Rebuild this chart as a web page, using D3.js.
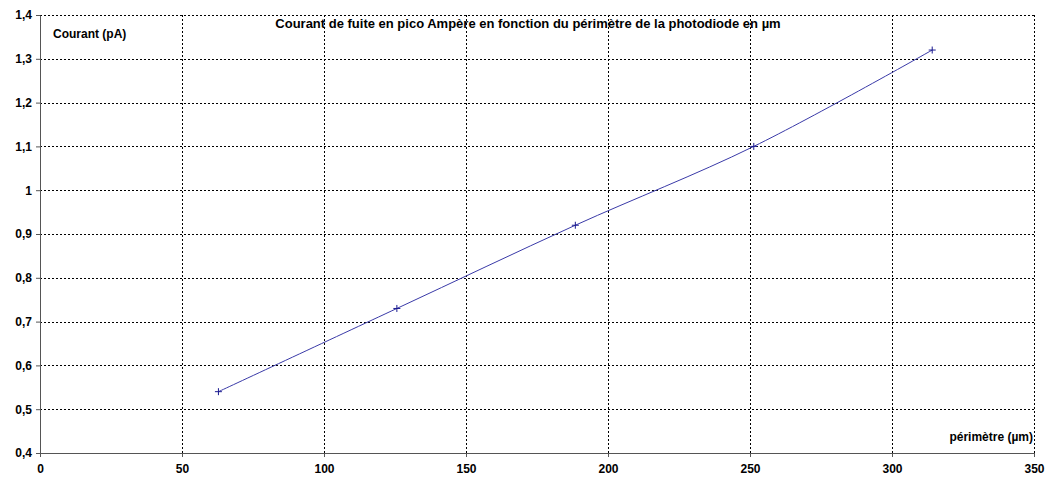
<!DOCTYPE html>
<html>
<head>
<meta charset="utf-8">
<script src="https://cdn.jsdelivr.net/npm/d3@7"></script>
<style>
  body { margin: 0; background: #fff; }
  svg { display: block; }
  text { font-family: "Liberation Sans", Arial, sans-serif; font-weight: bold; fill: #000; }
</style>
</head>
<body>
<svg id="chart" width="1046" height="479"></svg>
<script>
// Leakage current vs photodiode perimeter
const perimeters = [62.83, 125.66, 188.5, 251.33, 314.16];
const currents = [0.54, 0.73, 0.92, 1.10, 1.32];
const xTicks = [0, 50, 100, 150, 200, 250, 300, 350];
const yTicks = [0.4, 0.5, 0.6, 0.7, 0.8, 0.9, 1.0, 1.1, 1.2, 1.3, 1.4];
const titleText = "Courant de fuite en pico Ampère en fonction du périmètre de la photodiode en µm";
const yLabel = "Courant (pA)";
const xLabel = "périmètre (µm)";

const svg = d3.select("#chart");
const plotLeft = 40, plotRight = 1034, plotTop = 15, plotBottom = 453;

const x = d3.scaleLinear().domain([0, 350]).range([plotLeft, plotRight]);
const y = d3.scaleLinear().domain([0.4, 1.4]).range([plotBottom, plotTop]);
const fmt = v => d3.format(".1~f")(v).replace(".", ",");

// dashed grid
const grid = svg.append("g").attr("stroke", "#000").attr("stroke-width", 1)
  .attr("stroke-dasharray", "2,2").attr("shape-rendering", "crispEdges");
grid.selectAll("line.v").data(xTicks.filter(d => d > 0)).join("line").attr("class", "v")
  .attr("x1", d => Math.round(x(d)) + 0.5).attr("x2", d => Math.round(x(d)) + 0.5)
  .attr("y1", plotTop).attr("y2", plotBottom);
grid.selectAll("line.h").data(yTicks.filter(d => d > 0.4)).join("line").attr("class", "h")
  .attr("y1", d => Math.round(y(d)) + 0.5).attr("y2", d => Math.round(y(d)) + 0.5)
  .attr("x1", plotLeft).attr("x2", plotRight);

// axes
const xAxis = svg.append("g").attr("transform", `translate(0,${plotBottom})`)
  .call(d3.axisBottom(x).tickValues(xTicks).tickSize(4).tickSizeOuter(0).tickPadding(7).tickFormat(d3.format("d")));
const yAxis = svg.append("g").attr("transform", `translate(${plotLeft},0)`)
  .call(d3.axisLeft(y).tickValues(yTicks).tickSize(4).tickSizeOuter(0).tickPadding(4).tickFormat(fmt));
[xAxis, yAxis].forEach(a => {
  a.select(".domain").attr("stroke", "#555");
  a.selectAll(".tick line").attr("stroke", "#555");
  a.selectAll("text").style("font-size", "12px").style("font-weight", "bold")
    .style("font-family", "\"Liberation Sans\", Arial, sans-serif").attr("fill", "#000");
});

// smoothed series line
const line = d3.line()
  .x((d, i) => x(perimeters[i]))
  .y(d => y(d))
  .curve(d3.curveCatmullRom.alpha(0.5));
svg.append("path").datum(currents)
  .attr("fill", "none").attr("stroke", "#3a3aa8").attr("stroke-width", 1)
  .attr("d", line);

// plus markers
const m = 3.5;
svg.append("g").selectAll("path").data(currents).join("path")
  .attr("stroke", "#1a1a90").attr("stroke-width", 1).attr("fill", "none")
  .attr("d", (d, i) => {
    const cx = x(perimeters[i]), cy = y(d);
    return `M${cx - m},${cy}H${cx + m}M${cx},${cy - m}V${cy + m}`;
  });

// labels
svg.append("text").attr("x", 528).attr("y", 28).attr("text-anchor", "middle")
  .style("font-size", "13px").text(titleText);
svg.append("text").attr("x", 53).attr("y", 38)
  .style("font-size", "12px").text(yLabel);
svg.append("text").attr("x", 1033).attr("y", 441).attr("text-anchor", "end")
  .style("font-size", "12px").text(xLabel);
</script>
</body>
</html>
